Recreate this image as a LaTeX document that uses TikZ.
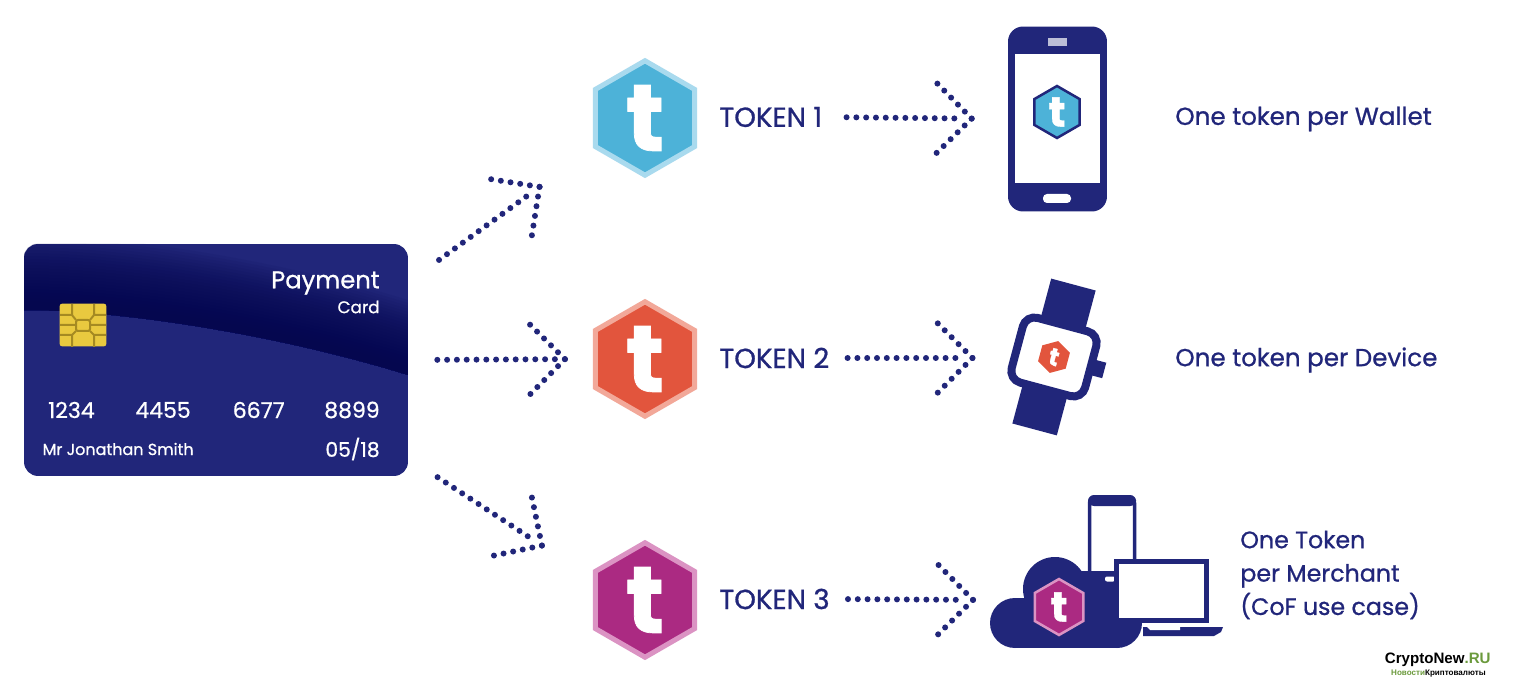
\documentclass[tikz,border=0pt]{standalone}
\usepackage{fontspec}
\setmainfont[FakeBold=0.8]{Poppins}
\newfontfamily\markfont{Liberation Sans}
\usetikzlibrary{arrows.meta,positioning,shapes.geometric,calc}
\definecolor{navy}{HTML}{21267A}
\definecolor{carddark}{HTML}{05074F}
\definecolor{chipgold}{HTML}{E9C93F}
\definecolor{chipline}{HTML}{A58A22}
\definecolor{tokblue}{HTML}{4DB2D8}
\definecolor{tokblueedge}{HTML}{A9DAEE}
\definecolor{tokred}{HTML}{E2553D}
\definecolor{tokrededge}{HTML}{F2A899}
\definecolor{tokpurple}{HTML}{AB2A82}
\definecolor{tokpurpleedge}{HTML}{DB93C3}
\definecolor{markgreen}{HTML}{6B9A3C}
\newcommand{\dotarrow}[4]{%
  \draw[dotline, shorten <=#3*0.02cm, shorten >=#4*0.02cm+0.2cm] (#1) -- (#2);
  \coordinate (tip) at ($(#2)!#4*0.02cm!(#1)$);
  \draw[dotline] (tip) -- ($(tip)!1.04cm!45:(#1)$);
  \draw[dotline] (tip) -- ($(tip)!1.04cm!-45:(#1)$);
}
\begin{document}
\begin{tikzpicture}[
    x=0.02cm, y=-0.02cm,
    dotline/.style={navy, line width=0.12cm, line cap=round, dash pattern=on 0pt off 0.196cm},
    hexbig/.style={regular polygon, regular polygon sides=6, shape border rotate=30, minimum size=2.29cm, inner sep=0pt, line width=0.1cm, text=white, font=\fontsize{54}{54}\selectfont\bfseries},
    hexsmall/.style={regular polygon, regular polygon sides=6, shape border rotate=30, inner sep=0pt, text=white, font=\fontsize{14}{14}\selectfont\bfseries},
    toklabel/.style={text=navy, inner sep=0pt, font=\fontsize{15.7}{15.7}\selectfont},
    perlabel/.style={text=navy, inner sep=0pt, font=\fontsize{14}{19}\selectfont, align=left},
    cardtext/.style={text=white, inner sep=0pt, anchor=east},
    cardnum/.style={cardtext, font=\fontsize{12.5}{12.5}\selectfont}
  ]
  \useasboundingbox[fill=white] (0,0) rectangle (1536,699);

  \node[fill=navy, rounded corners=0.28cm, minimum width=7.68cm, minimum height=4.64cm, inner sep=0pt] (card) at (216,360) {};
  \begin{scope}
    \clip[rounded corners=0.28cm] (card.north west) rectangle (card.south east);
    \foreach \d in {3,6,...,75}
      \fill[carddark, opacity=0.08] (24,{310-\d}) .. controls (120,{310-\d}) and (280,{335-\d}) .. (408,{375-\d}) -- (408,375) .. controls (280,335) and (120,310) .. (24,310) -- cycle;
  \end{scope}
  \node[cardtext, font=\fontsize{13.8}{13.8}\selectfont] (payment) at (380,283) {Payment};
  \node[cardtext, font=\fontsize{9.6}{9.6}\selectfont] (cardword) at (380,307) {Card};
  \node[cardnum] (num1) at (95,410) {1234};
  \node[cardnum] (num2) at (191,410) {4455};
  \node[cardnum] (num3) at (285,410) {6677};
  \node[cardnum] (num4) at (380,410) {8899};
  \node[cardtext, font=\fontsize{9.1}{9.1}\selectfont] (holder) at (194,449) {Mr Jonathan Smith};
  \node[cardtext, font=\fontsize{11.5}{11.5}\selectfont] (expiry) at (380,449) {05/18};

  \node[fill=chipgold, rounded corners=0.06cm, minimum width=0.94cm, minimum height=0.86cm, inner sep=0pt] (chip) at (83,325) {};
  \draw[chipline, line width=0.04cm, rounded corners=0.04cm] (76,320) rectangle (90,331);
  \draw[chipline, line width=0.04cm] (60,315) -- (72,315) -- (76,320) (106,315) -- (94,315) -- (90,320) (60,335) -- (72,335) -- (76,331) (106,335) -- (94,335) -- (90,331) (60,325) -- (76,325) (90,325) -- (106,325) (72,304) -- (72,315) (94,304) -- (94,315) (72,335) -- (72,347) (94,335) -- (94,347);

  \node[hexbig, fill=tokblue, draw=tokblueedge] (hex1) at (645,118) {t};
  \node[hexbig, fill=tokred, draw=tokrededge] (hex2) at (645,359) {t};
  \node[hexbig, fill=tokpurple, draw=tokpurpleedge] (hex3) at (645,600) {t};
  \node[toklabel, anchor=west] (tok1) at (719,117) {TOKEN 1};
  \node[toklabel, anchor=west] (tok2) at (719,358) {TOKEN 2};
  \node[toklabel, anchor=west] (tok3) at (719,599) {TOKEN 3};

  \node[fill=navy, rounded corners=0.3cm, minimum width=1.98cm, minimum height=3.7cm, inner sep=0pt] (phone) at (1057.5,119) {};
  \node[fill=white, minimum width=1.7cm, minimum height=2.58cm, inner sep=0pt] (screen) at (1057.5,118.5) {};
  \node[fill=white!70!navy, minimum width=0.38cm, minimum height=0.16cm, inner sep=0pt] (speaker) at (1057,42.5) {};
  \node[fill=white, rounded corners=0.08cm, minimum width=0.56cm, minimum height=0.18cm, inner sep=0pt] (homekey) at (1057,198.5) {};
  \node[hexsmall, minimum size=1.04cm, fill=tokblue, draw=navy, line width=0.05cm, font=\fontsize{24}{24}\selectfont\bfseries] (hexphone) at (1057,112) {t};

  \begin{scope}[shift={(1054,357)}, rotate=-15]
    \fill[navy] (-23,-75) rectangle (23,75);
    \fill[navy] (40,-8) rectangle (52,8);
    \node[fill=white, draw=navy, line width=0.16cm, rounded corners=0.24cm, minimum width=1.52cm, minimum height=1.34cm, inner sep=0pt, rotate=-15] (watch) at (0,0) {};
    \node[hexsmall, minimum size=0.66cm, fill=tokred, rotate=-15] (hexwatch) at (0,0) {t};
  \end{scope}

  \draw[navy, line width=0.07cm, fill=white, rounded corners=0.12cm] (1089.5,590) -- (1089.5,497) -- (1134.5,497) -- (1134.5,590);
  \fill[navy, rounded corners=0.12cm] (1088,506) -- (1088,495) -- (1136,495) -- (1136,506) -- cycle;
  \fill[navy] (1015,623) circle (25);
  \fill[navy] (1055,589) circle (32);
  \fill[navy] (1117,623) circle (25);
  \fill[navy] (1015,598) rectangle (1117,648);
  \fill[navy] (1080,571) rectangle (1136,600);
  \node[fill=white, rounded corners=0.04cm, minimum width=0.2cm, minimum height=0.1cm, inner sep=0pt] (phonekey) at (1110,579) {};
  \fill[navy] (1143,627) -- (1223,627) -- (1221,632) -- (1214,636) -- (1143,636) -- cycle;
  \fill[white] (1145,625) -- (1180,625) -- (1180,630) -- (1150,630) -- cycle;
  \node[fill=white, draw=navy, line width=0.09cm, minimum width=1.8cm, minimum height=1.18cm, inner sep=0pt] (laptop) at (1161.5,591) {};
  \node[hexsmall, minimum size=1.12cm, fill=tokpurple, draw=tokpurpleedge, line width=0.05cm, font=\fontsize{24}{24}\selectfont\bfseries] (hexcloud) at (1059,607) {t};
  \coordinate (cloud) at (990,600);

  \node[perlabel, anchor=west] (per1) at (1175,119) {One token per Wallet};
  \node[perlabel, anchor=west] (per2) at (1175,360) {One token per Device};
  \node[perlabel, anchor=west, font=\fontsize{13.5}{19}\selectfont] (per3) at (1240,575) {One Token\\per Merchant\\(CoF use case)};

  \dotarrow{card.22}{hex1.210}{38}{66}
  \dotarrow{card.east}{hex2.west}{29}{28}
  \dotarrow{card.-27}{hex3.158}{35}{61}
  \dotarrow{tok1.east}{phone.west}{24}{36}
  \dotarrow{tok2.east}{tok2.east -| watch.west}{18}{41}
  \dotarrow{tok3.east}{cloud}{18}{17}

  \node[inner sep=0pt, anchor=east, font=\markfont\fontsize{8.6}{8.6}\selectfont\bfseries] (markname) at (1491,660) {CryptoNew\textcolor{markgreen}{.RU}};
  \node[inner sep=0pt, anchor=east, font=\markfont\fontsize{4.6}{4.6}\selectfont\bfseries] (marksub) at (1486,674) {\textcolor{markgreen}{Новости}Криптовалюты};
\end{tikzpicture}
\end{document}
